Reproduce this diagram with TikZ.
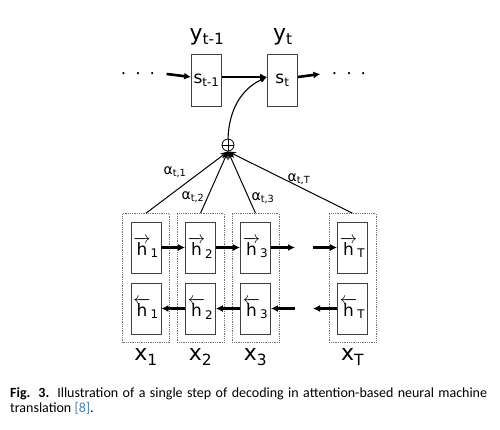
\documentclass[tikz,border=0pt]{standalone}
\usepackage{fontspec}
\setmainfont{DejaVu Sans}
\newfontfamily\capfont{Carlito}
\usetikzlibrary{arrows.meta,fit}
\definecolor{citeblue}{RGB}{70,130,190}
\newcommand{\fwd}[1]{$\overrightarrow{\mbox{h}}$\textsubscript{#1}}
\newcommand{\bwd}[1]{$\overleftarrow{\mbox{h}}$\textsubscript{#1}}

\begin{document}
\begin{tikzpicture}[x=1pt,y=-1pt,
    every node/.style={font=\fontsize{17}{17}\selectfont},
    cell/.style={draw=black!75, line width=0.8pt, minimum width=30pt,
        minimum height=51pt, inner sep=0pt},
    col/.style={draw=black!55, densely dotted, line width=0.8pt, inner sep=8pt},
    big/.style={font=\fontsize{22}{22}\selectfont},
    wt/.style={font=\fontsize{14}{14}\selectfont},
    flow/.style={line width=2.6pt, -{Latex[length=7pt,width=7pt]}},
    att/.style={line width=1pt, -{Stealth[length=8pt,width=6pt]}}
]
\useasboundingbox (0,0) rectangle (500,429);

\node[cell, minimum height=52pt] (s1) at (206.5,80) {s\textsubscript{t-1}};
\node[cell, minimum height=52pt] (s2) at (282.5,80) {s\textsubscript{t}};
\node[big] (y1) at (207,37) {y\textsubscript{t-1}};
\node[big] (y2) at (283,37) {y\textsubscript{t}};

\node (ldots) at (138,76) {·\hspace{9pt}·\hspace{9pt}·};
\node (rdots) at (349,76) {·\hspace{9pt}·\hspace{9pt}·};

\draw[flow, shorten <=8pt] ([yshift=3pt]ldots.east) -- ([yshift=3pt]s1.west);
\draw[flow] ([yshift=3pt]s1.east) -- ([yshift=3pt]s2.west);
\draw[flow, shorten >=8pt] ([yshift=3pt]s2.east) -- ([yshift=3pt]rdots.west);

\node[circle, draw, line width=0.8pt, inner sep=0pt, minimum size=12pt] (sum) at (228,145) {};
\draw[line width=0.8pt] (sum.north) -- (sum.south) (sum.west) -- (sum.east);
\draw[line width=1.1pt, -{Latex[length=7pt,width=6pt]}] (sum.north)
    to[out=88,in=205] ([yshift=3pt]s2.west);

\node[cell] (f1) at (146,247.5) {\fwd{1}};
\node[cell] (f2) at (200.5,247.5) {\fwd{2}};
\node[cell] (f3) at (255.5,247.5) {\fwd{3}};
\node[cell] (f4) at (352.5,247.5) {\fwd{T}};
\node[cell] (b1) at (146,308.5) {\bwd{1}};
\node[cell] (b2) at (200.5,308.5) {\bwd{2}};
\node[cell] (b3) at (255.5,308.5) {\bwd{3}};
\node[cell] (b4) at (352.5,308.5) {\bwd{T}};

\node[col, fit=(f1)(b1)] (c1) {};
\node[col, fit=(f2)(b2)] (c2) {};
\node[col, fit=(f3)(b3)] (c3) {};
\node[col, fit=(f4)(b4)] (c4) {};

\node[big] (x1) at (146,357) {x\textsubscript{1}};
\node[big] (x2) at (200.5,357) {x\textsubscript{2}};
\node[big] (x3) at (255.5,357) {x\textsubscript{3}};
\node[big] (x4) at (352.5,357) {x\textsubscript{T}};

\coordinate (fgapl) at (295,247.5);
\coordinate (fgapr) at (313,247.5);
\coordinate (bgapl) at (295,308.5);
\coordinate (bgapr) at (313,308.5);

\draw[flow] (f1) -- (f2);
\draw[flow] (f2) -- (f3);
\draw[flow] (f3) -- (fgapl);
\draw[flow] (fgapr) -- (f4);
\draw[flow] (b4) -- (bgapr);
\draw[flow] (bgapl) -- (b3);
\draw[flow] (b3) -- (b2);
\draw[flow] (b2) -- (b1);

\draw[att] (c1.north) -- (sum.south);
\draw[att] (c2.north) -- (sum.south);
\draw[att] (c3.north) -- (sum.south);
\draw[att] (c4.north) -- (sum.south);

\node[wt] (a1) at (175,172) {α\textsubscript{t,1}};
\node[wt] (a2) at (193,197) {α\textsubscript{t,2}};
\node[wt] (a3) at (263,198) {α\textsubscript{t,3}};
\node[wt] (a4) at (299,179) {α\textsubscript{t,T}};

\node[anchor=north west, text width=477pt, align=justify, inner sep=0pt,
    font=\capfont\fontsize{14}{15}\selectfont] (cap) at (10,387)
    {\textbf{Fig. 3.} Illustration of a single step of decoding in attention-based neural machine translation {\color{citeblue}[8]}.};
\end{tikzpicture}
\end{document}
